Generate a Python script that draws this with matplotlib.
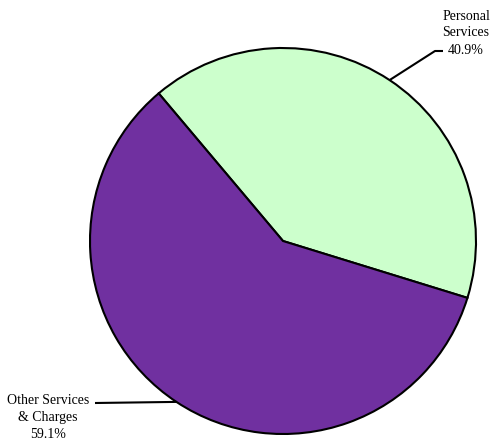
import numpy as np
import matplotlib
matplotlib.use('Agg')
import matplotlib.pyplot as plt

# Data
labels = ['Personal\nServices', 'Other Services\n& Charges']
shares = [40.9, 59.1]
colors = ['#CCFFCC', '#7030A0']

fig = plt.figure(figsize=(4.91, 4.42), dpi=100)
ax = fig.add_axes([0, 0, 1, 1])

cx, cy, r = 283, 201, 193
wedges, _ = ax.pie(shares, colors=colors, startangle=130.1, counterclock=False,
                   center=(cx, cy), radius=r,
                   wedgeprops=dict(edgecolor='black', linewidth=1.5))
ax.set_xlim(0, 491)
ax.set_ylim(0, 442)
ax.set_aspect('equal')
ax.axis('off')

# leader line elbows and text positions (layout)
elbows = [[(435, 391), (443, 391)], [(95, 39)]]
text_pos = [(466, 409), (48, 24)]

for w, lab, val, elb, tp in zip(wedges, labels, shares, elbows, text_pos):
    mid = np.deg2rad((w.theta1 + w.theta2) / 2)
    x0 = cx + r * np.cos(mid)
    y0 = cy + r * np.sin(mid)
    xs = [x0] + [p[0] for p in elb]
    ys = [y0] + [p[1] for p in elb]
    ax.plot(xs, ys, color='black', linewidth=1.5, solid_capstyle='butt')
    ax.text(tp[0], tp[1], lab + '\n' + str(val) + '%', ha='center', va='center',
            fontsize=10, family='Liberation Serif', linespacing=1.4)

fig.savefig('out.png', dpi=100)
